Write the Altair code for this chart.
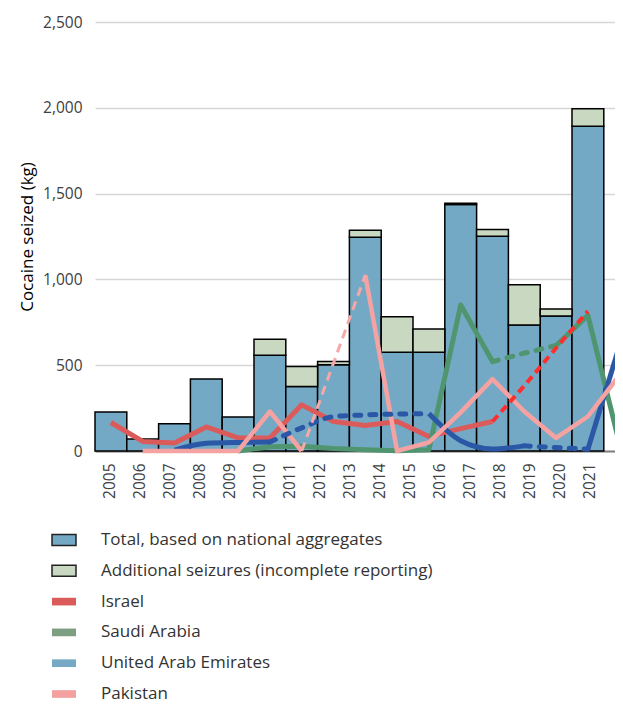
import altair as alt
import pandas as pd

# ---------------- data ----------------
years = [str(y) for y in range(2005, 2022)]          # 17 categories on the axis
bar_years = years[:16]                                # bars drawn in the first 16 slots

national = [228, 70, 159, 419, 198, 558, 376, 503, 1246, 576, 576, 1436, 1252, 734, 787, 1893]
total = [228, 70, 159, 419, 198, 651, 492, 521, 1287, 783, 711, 1444, 1291, 969, 827, 1994]

N = None
israel_solid = [166, 56, 47, 140, 76, 76, 269, 172, 149, 172, 85, 130, 172, N, N, N, N]
israel_dash = [N, N, N, N, N, N, N, N, N, N, N, N, 172, 380, 600, 815, N]
saudi_solid = [N, N, N, N, 0, 25, 28, 15, 8, 2, 8, 851, 521, N, 615, 790, 37]
saudi_dash = [N, N, N, N, N, N, N, N, N, N, N, N, 521, 570, 615, N, N]
uae_solid = [N, N, 5, 45, 50, 52, N, N, N, N, 218, 60, 12, 30, N, 10, 618]
uae_dash = [N, N, N, N, N, 52, 135, 200, 210, 215, 218, N, N, 30, 20, 10, N]
pak_solid = [N, 0, 0, 0, 0, 230, 0, N, 1025, 0, 50, 225, 419, 230, 76, 201, 444]
pak_dash = [N, N, N, N, N, N, 0, N, 1025, N, N, N, N, N, N, N, N]

legend_labels = [
    "Total, based on national aggregates",
    "Additional seizures (incomplete reporting)",
    "Israel",
    "Saudi Arabia",
    "United Arab Emirates",
    "Pakistan",
]
legend_colors = ["#74a9c6", "#c9d8c1", "#db5b5b", "#7d9e80", "#76a9c5", "#f4a0a0"]
legend_kinds = ["box", "box", "line", "line", "line", "line"]

FONT = "Open Sans"

# ---------------- tables ----------------
slot = {y: i for i, y in enumerate(years)}            # category slot of each year
bars_df = pd.DataFrame({"year": bar_years, "national": national, "total": total})
bars_df["x0"] = bars_df["year"].map(slot)
bars_df["x1"] = bars_df["x0"] + 1
bars_df["zero"] = 0
extra_df = bars_df[bars_df["total"] > bars_df["national"]]


def segments(name, values, gap_break=True):
    rows, seg, prev = [], 0, None
    for i, v in enumerate(values):
        if v is None:
            if prev is not None and gap_break:
                seg += 1
            prev = None
            continue
        rows.append({"seg": f"{name}-{seg}", "year": years[i], "xm": slot[years[i]] + 0.5, "value": v})
        prev = v
    return pd.DataFrame(rows)


# ---------------- scales / axes ----------------
PLOT_W = 520
STEP = 31.8                                            # pixel width of one category slot
xscale = alt.Scale(domain=[0, PLOT_W / STEP], nice=False, zero=False, padding=0)
xaxis = alt.Axis(orient="bottom", labels=False, ticks=False, domain=True, domainColor="#808080",
                 domainWidth=2, grid=False, title=None)
yscale = alt.Scale(domain=[0, 2500], nice=False, zero=True, padding=0)
yaxis = alt.Axis(orient="left", values=[0, 500, 1000, 1500, 2000, 2500], format=",d",
                 grid=True, gridColor="#d6d6d6", gridWidth=1.5, domain=False, ticks=False,
                 labelPadding=13, labelFontSize=15.5, labelColor="#404040", labelFont=FONT,
                 title="Cocaine seized (kg)", titleFont=FONT, titleFontSize=17,
                 titleFontWeight="normal", titleColor="#000000", titlePadding=6)


def X(field):
    return alt.X(f"{field}:Q", scale=xscale, axis=xaxis)


def Y(field):
    return alt.Y(f"{field}:Q", scale=yscale, axis=yaxis)


blue_bars = alt.Chart(bars_df).mark_rect(fill="#74a9c6", stroke="#000000", strokeWidth=1.5).encode(
    x=X("x0"), x2="x1:Q", y=Y("zero"), y2="national:Q")
extra_bars = alt.Chart(extra_df).mark_rect(fill="#c9d8c1", stroke="#000000", strokeWidth=1.5).encode(
    x=X("x0"), x2="x1:Q", y=Y("national"), y2="total:Q")


def line(name, values, color, width, dash=None, interp="linear", gap_break=True):
    kw = dict(color=color, strokeWidth=width, interpolate=interp, strokeJoin="round")
    if dash:
        kw["strokeDash"] = dash
        kw["strokeCap"] = "round" if dash[0] < dash[1] else "butt"
    return alt.Chart(segments(name, values, gap_break)).mark_line(**kw).encode(
        x=X("xm"), y=Y("value"), detail="seg:N")


layers = [
    blue_bars,
    extra_bars,
    line("isr", israel_solid, "#db5b5b", 5),
    line("sau", saudi_solid, "#4f9670", 5),
    line("uae", uae_solid, "#2b57a7", 5, interp="monotone"),
    line("pak", pak_solid, "#f4a2a2", 4.5),
    line("sau_d", saudi_dash, "#4f9670", 5, dash=[6, 9]),
    line("uae_d", uae_dash, "#2b57a7", 5, dash=[6, 9], interp="monotone"),
    line("isr_d", israel_dash, "#ff2e2e", 4, dash=[8, 5]),
    line("pak_d", pak_dash, "#f6a7a7", 3, dash=[9, 6], gap_break=False),
]
main = alt.layer(*layers)

# year labels (the reference spaces them 30 px apart, slightly tighter than the bars)
labels_layer = alt.Chart(pd.DataFrame({"year": years})).mark_point(opacity=0).encode(
    x=alt.X("year:O", sort=years,
            scale=alt.Scale(type="band", domain=years, range=[0, 510], paddingInner=0, paddingOuter=0),
            axis=alt.Axis(orient="bottom", labelAngle=270, labelAlign="right", labelBaseline="middle",
                          labelPadding=12, ticks=False, domain=False, grid=False, title=None,
                          labelFontSize=15.5, labelColor="#404040", labelFont=FONT)),
    y=alt.value(0),
)

# legend
leg_df = pd.DataFrame({"label": legend_labels, "color": legend_colors, "kind": legend_kinds})
leg_y = alt.Y("label:N", sort=legend_labels, axis=None,
              scale=alt.Scale(type="point", domain=legend_labels, range=[518, 672], padding=0))
box_path = "M-1,-0.46H1V0.46H-1Z"
line_path = "M-1,-0.32H1V0.32H-1Z"
leg_box = alt.Chart(leg_df[leg_df["kind"] == "box"]).mark_point(
    shape=box_path, size=576, filled=True, stroke="#222222", strokeWidth=1.5, opacity=1).encode(
    y=leg_y, x=alt.value(-31), fill=alt.Fill("color:N", scale=None))
leg_line = alt.Chart(leg_df[leg_df["kind"] == "line"]).mark_point(
    shape=line_path, size=576, filled=True, strokeWidth=0, opacity=1).encode(
    y=leg_y, x=alt.value(-31), fill=alt.Fill("color:N", scale=None))
leg_text = alt.Chart(leg_df).mark_text(align="left", baseline="middle", fontSize=17, font=FONT,
                                       color="#333333").encode(
    y=leg_y, x=alt.value(6), text="label:N")
legend = alt.layer(leg_box, leg_line, leg_text)

chart = alt.layer(main, labels_layer, legend).resolve_scale(
    x="independent", y="independent"
).properties(
    width=PLOT_W, height=429,
    autosize=alt.AutoSizeParams(type="none"),
    padding={"left": 87, "top": 14, "right": 0, "bottom": 252},
    background="#ffffff",
).configure_view(stroke=None)

chart.save("out.html", embed_options={"renderer": "svg", "actions": False})
